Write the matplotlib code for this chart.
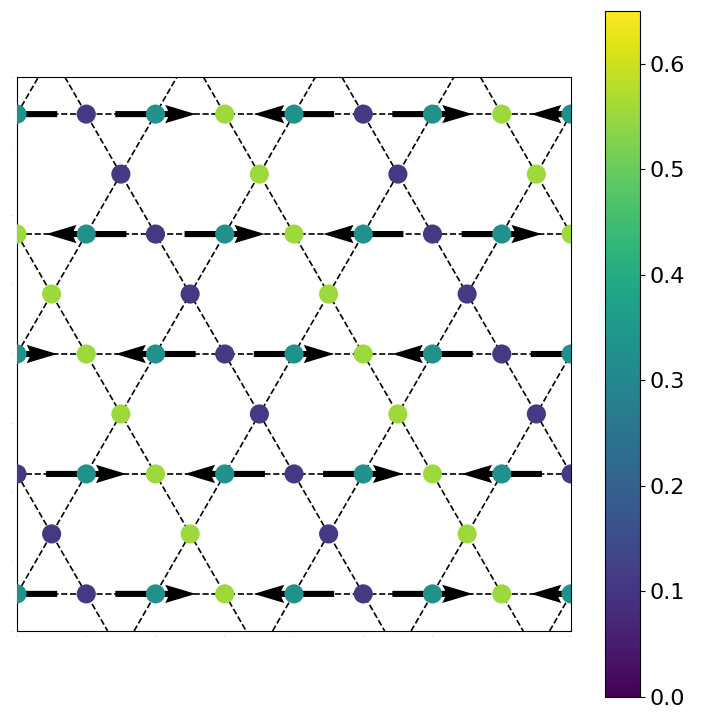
"""
Kagome lattice snapshot: site values coloured with viridis, horizontal
moments drawn as arrows on the mid-valued sites.
"""

import numpy as np
import matplotlib
matplotlib.use("Agg")
import matplotlib.pyplot as plt

LOW = 0.11
MID = 0.325
HIGH = 0.555

# horizontal chains, bottom to top, one site per bond length (x = 0..8)
chain_values = [
    [MID, LOW, MID, HIGH, MID, LOW, MID, HIGH, MID],
    [LOW, MID, HIGH, MID, LOW, MID, HIGH, MID, LOW],
    [MID, HIGH, MID, LOW, MID, HIGH, MID, LOW, MID],
    [HIGH, MID, LOW, MID, HIGH, MID, LOW, MID, HIGH],
    [MID, LOW, MID, HIGH, MID, LOW, MID, HIGH, MID],
]
# horizontal moment on each chain site (-1 left, +1 right, 0 none)
chain_moments = [
    [-1, 0, 1, 0, -1, 0, 1, 0, -1],
    [0, 1, 0, -1, 0, 1, 0, -1, 0],
    [1, 0, -1, 0, 1, 0, -1, 0, 1],
    [0, -1, 0, 1, 0, -1, 0, 1, 0],
    [-1, 0, 1, 0, -1, 0, 1, 0, -1],
]
# bridging sites between chains, bottom to top (four per row)
bridge_values = [
    [LOW, HIGH, LOW, HIGH],
    [HIGH, LOW, HIGH, LOW],
    [HIGH, LOW, HIGH, LOW],
    [LOW, HIGH, LOW, HIGH],
]
bridge_offset = [0.5, 1.5, 0.5, 1.5]

ARROW_LEN = 1.16
VMAX = 0.65
S3 = np.sqrt(3)
Y0 = 4 - 2 * S3  # first chain height, lattice centred in an 8x8 box

plt.rcParams.update({"font.family": "DejaVu Sans"})

fig = plt.figure(figsize=(7.2, 7.2), dpi=100)
ax = fig.add_axes([17 / 720, 1 - 631 / 720, 554 / 720, 554 / 720])
cax = fig.add_axes([605 / 720, 1 - 697 / 720, 35 / 720, 686 / 720])

# lattice bonds: chains plus the two diagonal families
for r in range(len(chain_values)):
    ax.axhline(Y0 + r * S3, color="k", ls="--", lw=1.2, zorder=1)
for n in range(-4, 8):
    ax.axline((2 * n, Y0), slope=S3, color="k", ls="--", lw=1.2, zorder=1)
    ax.axline((2 * n + 1, Y0), slope=-S3, color="k", ls="--", lw=1.2, zorder=1)

xs, ys, cs = [], [], []
qx, qy, qu = [], [], []
for r, (vals, moms) in enumerate(zip(chain_values, chain_moments)):
    for i, (v, m) in enumerate(zip(vals, moms)):
        xs.append(i)
        ys.append(Y0 + r * S3)
        cs.append(v)
        if m != 0:
            qx.append(i)
            qy.append(Y0 + r * S3)
            qu.append(m * ARROW_LEN)
for r, vals in enumerate(bridge_values):
    for i, v in enumerate(vals):
        xs.append(bridge_offset[r] + 2 * i)
        ys.append(Y0 + r * S3 + S3 / 2)
        cs.append(v)

ax.quiver(qx, qy, qu, np.zeros(len(qu)), pivot="middle", angles="xy",
          scale_units="xy", scale=1, width=0.011, color="k", zorder=2)
sc = ax.scatter(xs, ys, c=cs, s=190, cmap="viridis", vmin=0, vmax=VMAX,
                zorder=3, linewidths=0)

ax.set_xlim(0, 8)
ax.set_ylim(0, 8)
ax.set_aspect("equal")
ax.set_xticks(range(9))
ax.set_yticks(range(9))
ax.tick_params(length=0, labelsize=1.5, labelcolor="#999999")

cb = fig.colorbar(sc, cax=cax)
cb.ax.tick_params(labelsize=16)

fig.savefig("out.png", dpi=100, facecolor="white")
